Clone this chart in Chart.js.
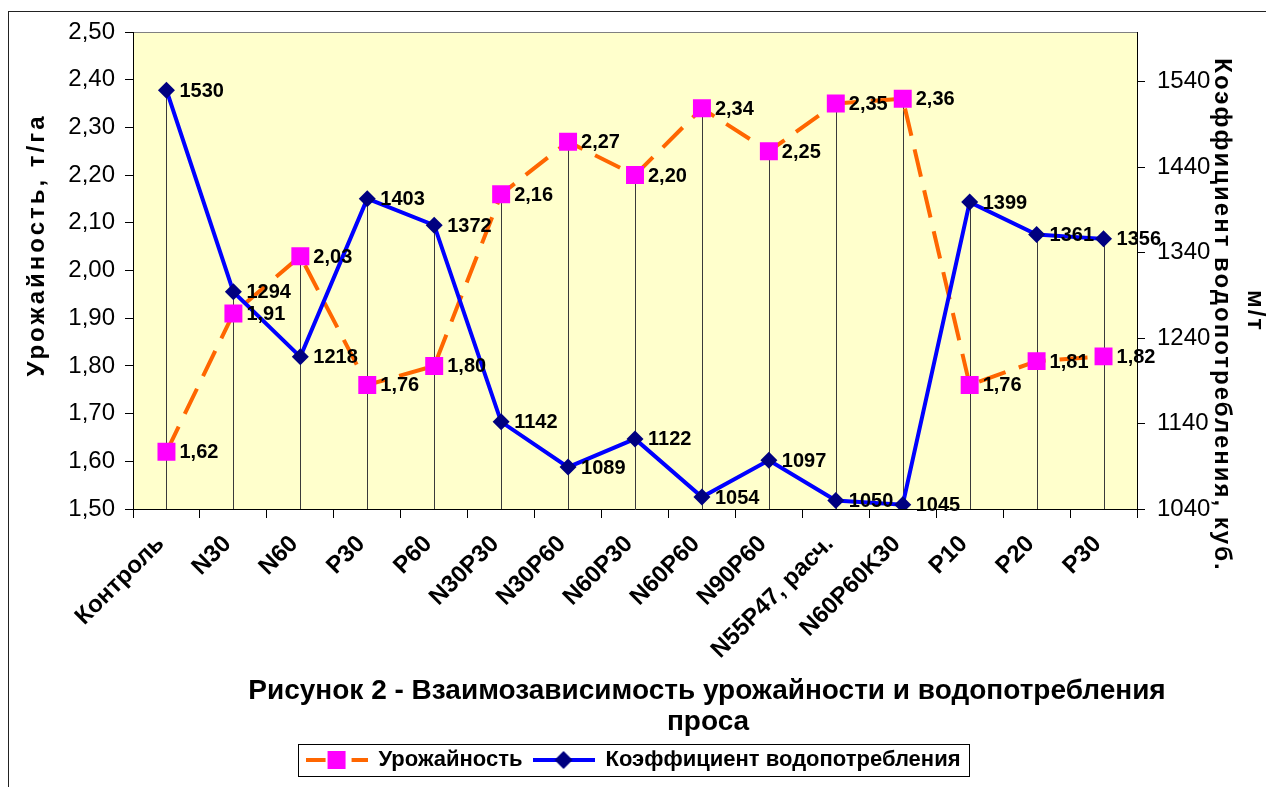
<!DOCTYPE html>
<html>
<head>
<meta charset="utf-8">
<script src="https://cdn.jsdelivr.net/npm/chart.js@4.4.1/dist/chart.umd.min.js"></script>
<style>
    html, body { margin: 0; padding: 0; background: #fff; }
</style>
</head>
<body>
<canvas id="yieldChart" width="1266" height="787"></canvas>
<script>
// data
const categories = ['Контроль', 'N30', 'N60', 'P30', 'P60', 'N30P30', 'N30P60', 'N60P30',
    'N60P60', 'N90P60', 'N55P47, расч.', 'N60P60K30', 'P10', 'P20', 'P30'];
const yieldValues = [1.62, 1.91, 2.03, 1.76, 1.80, 2.16, 2.27, 2.20, 2.34, 2.25, 2.35, 2.36, 1.76, 1.81, 1.82];
const waterValues = [1530, 1294, 1218, 1403, 1372, 1142, 1089, 1122, 1054, 1097, 1050, 1045, 1399, 1361, 1356];
const yieldTicks = [1.5, 1.6, 1.7, 1.8, 1.9, 2.0, 2.1, 2.2, 2.3, 2.4, 2.5];
const waterTicks = [1040, 1140, 1240, 1340, 1440, 1540];

const FONT = '"Liberation Sans", Arial, sans-serif';
Chart.defaults.font.family = FONT;
Chart.defaults.color = '#000';

// little canvas used as legend sample (line + marker)
function legendSample(kind) {
    const c = document.createElement('canvas');
    c.width = 62;
    c.height = 20;
    const g = c.getContext('2d');
    g.lineWidth = 4;
    if (kind === 0) {
        g.strokeStyle = '#FF6600';
        g.setLineDash([20, 26]);
        g.beginPath(); g.moveTo(0, 10); g.lineTo(62, 10); g.stroke();
        g.fillStyle = '#FF00FF';
        g.fillRect(22, 1, 18, 18);
    } else {
        g.strokeStyle = '#0000FF';
        g.beginPath(); g.moveTo(0, 10); g.lineTo(62, 10); g.stroke();
        g.fillStyle = '#000080';
        g.beginPath();
        g.moveTo(31, 1); g.lineTo(40, 10); g.lineTo(31, 19); g.lineTo(22, 10);
        g.closePath(); g.fill();
    }
    return c;
}

// yellow plot area + outer frame
const plotBg = {
    id: 'plotBg',
    beforeDraw(chart) {
        const { ctx, chartArea: a } = chart;
        ctx.save();
        ctx.fillStyle = '#FFFFCC';
        ctx.fillRect(a.left, a.top, a.right - a.left, a.bottom - a.top);
        ctx.strokeStyle = '#808080';
        ctx.lineWidth = 1;
        ctx.beginPath();
        ctx.moveTo(a.left, a.top + 0.5);
        ctx.lineTo(a.right, a.top + 0.5);
        ctx.stroke();
        ctx.strokeStyle = '#222';
        ctx.strokeRect(8.5, 11.5, 1300, 800);
        ctx.restore();
    }
};

// thin vertical drop lines from the axis to the higher point
const dropLines = {
    id: 'dropLines',
    beforeDatasetsDraw(chart) {
        const { ctx, chartArea } = chart;
        const a = chart.getDatasetMeta(0).data;
        const b = chart.getDatasetMeta(1).data;
        ctx.save();
        ctx.strokeStyle = '#3a3a3a';
        ctx.lineWidth = 1;
        a.forEach((pt, i) => {
            const x = Math.round(pt.x) + 0.5;
            const top = Math.min(pt.y, b[i].y);
            ctx.beginPath();
            ctx.moveTo(x, chartArea.bottom);
            ctx.lineTo(x, top);
            ctx.stroke();
        });
        ctx.restore();
    }
};

// value labels right of each point
const valueLabels = {
    id: 'valueLabels',
    afterDatasetsDraw(chart) {
        const { ctx } = chart;
        ctx.save();
        ctx.font = 'bold 20px ' + FONT;
        ctx.fillStyle = '#000';
        ctx.textBaseline = 'middle';
        ctx.textAlign = 'left';
        chart.data.datasets.forEach((ds, di) => {
            chart.getDatasetMeta(di).data.forEach((pt, i) => {
                const v = ds.data[i];
                const txt = di === 0 ? v.toFixed(2).replace('.', ',') : String(v);
                ctx.fillText(txt, pt.x + 13, pt.y + 1);
            });
        });
        ctx.restore();
    }
};

function rotatedText(ctx, txt, x, y, angle) {
    ctx.save();
    ctx.translate(x, y);
    ctx.rotate(angle);
    ctx.fillText(txt, 0, 0);
    ctx.restore();
}

// axis titles, figure caption, legend frame
const extraText = {
    id: 'extraText',
    afterDraw(chart) {
        const { ctx } = chart;
        ctx.save();
        ctx.fillStyle = '#000';
        ctx.textAlign = 'center';
        ctx.textBaseline = 'middle';

        ctx.font = 'bold 24px ' + FONT;
        ctx.letterSpacing = '3px';
        rotatedText(ctx, 'Урожайность, т/га', 37, 245, -Math.PI / 2);
        ctx.letterSpacing = '2px';
        rotatedText(ctx, 'Коэффициент водопотребления, куб.', 1222, 315, Math.PI / 2);
        rotatedText(ctx, 'м/т', 1255, 311, Math.PI / 2);
        ctx.letterSpacing = '0px';

        ctx.font = 'bold 28px ' + FONT;
        ctx.fillText('Рисунок 2 - Взаимозависимость урожайности и водопотребления', 707, 691);
        ctx.fillText('проса', 708, 722);

        const boxes = chart.legend.legendHitBoxes;
        if (boxes && boxes.length) {
            const l = Math.min(...boxes.map(b => b.left)) - 8;
            const r = Math.max(...boxes.map(b => b.left + b.width)) + 8;
            const t = Math.min(...boxes.map(b => b.top)) - 5;
            const btm = Math.max(...boxes.map(b => b.top + b.height)) + 5;
            ctx.strokeStyle = '#000';
            ctx.lineWidth = 1;
            ctx.strokeRect(Math.round(l) + 0.5, Math.round(t) + 0.5, Math.round(r - l), Math.round(btm - t));
        }
        ctx.restore();
    }
};

new Chart(document.getElementById('yieldChart'), {
    type: 'line',
    data: {
        labels: categories,
        datasets: [{
            label: 'Урожайность',
            data: yieldValues,
            yAxisID: 'y',
            borderColor: '#FF6600',
            borderWidth: 4,
            borderDash: [28, 14],
            pointStyle: 'rect',
            pointRadius: 12.7,
            pointBackgroundColor: '#FF00FF',
            pointBorderColor: '#FF00FF',
            pointBorderWidth: 0,
            tension: 0,
            order: 1
        }, {
            label: 'Коэффициент водопотребления',
            data: waterValues,
            yAxisID: 'y1',
            borderColor: '#0000FF',
            borderWidth: 4,
            pointStyle: 'rectRot',
            pointRadius: 8.5,
            pointBackgroundColor: '#000080',
            pointBorderColor: '#000080',
            pointBorderWidth: 0,
            tension: 0,
            order: 0
        }]
    },
    options: {
        responsive: false,
        animation: false,
        events: [],
        layout: { padding: { top: 32, left: 0, right: 0, bottom: 6 } },
        plugins: {
            title: { display: false },
            tooltip: { enabled: false },
            legend: {
                position: 'bottom',
                labels: {
                    usePointStyle: true,
                    pointStyleWidth: 62,
                    padding: 10,
                    color: '#000',
                    font: { size: 22, weight: 'bold' },
                    generateLabels: chart => chart.data.datasets.map((ds, i) => ({
                        text: ds.label,
                        pointStyle: legendSample(i),
                        datasetIndex: i,
                        hidden: false,
                        lineWidth: 0,
                        strokeStyle: 'rgba(0,0,0,0)',
                        fillStyle: 'rgba(0,0,0,0)',
                        fontColor: '#000'
                    }))
                }
            }
        },
        scales: {
            x: {
                offset: true,
                grid: {
                    offset: true,
                    drawOnChartArea: false,
                    tickLength: 9,
                    color: '#000'
                },
                border: { color: '#000', width: 1 },
                ticks: {
                    autoSkip: false,
                    maxRotation: 45,
                    minRotation: 45,
                    padding: 12,
                    labelOffset: -6,
                    color: '#000',
                    font: { size: 24, weight: 'bold' }
                },
                afterFit: s => { s.height = 230; }
            },
            y: {
                position: 'left',
                min: 1.5,
                max: 2.5,
                afterBuildTicks: s => { s.ticks = yieldTicks.map(v => ({ value: v })); },
                grid: { drawOnChartArea: false, tickLength: 8, color: '#000' },
                border: { color: '#000', width: 1 },
                ticks: {
                    padding: 10,
                    color: '#000',
                    font: { size: 24 },
                    callback: v => v.toFixed(2).replace('.', ',')
                },
                afterFit: s => { s.width = 133; }
            },
            y1: {
                position: 'right',
                min: 1040,
                max: 1598,
                afterBuildTicks: s => { s.ticks = waterTicks.map(v => ({ value: v })); },
                grid: { drawOnChartArea: false, tickLength: 8, color: '#000' },
                border: { color: '#000', width: 1 },
                ticks: {
                    padding: 12,
                    color: '#000',
                    font: { size: 24 },
                    callback: v => String(v)
                },
                afterFit: s => { s.width = 129; }
            }
        }
    },
    plugins: [plotBg, dropLines, valueLabels, extraText]
});
</script>
</body>
</html>
